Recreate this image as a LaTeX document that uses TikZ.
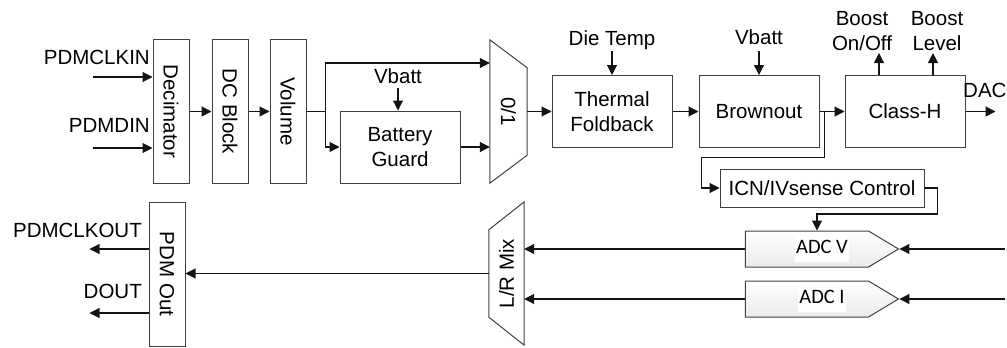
\documentclass[tikz,border=0pt]{standalone}
\usepackage{fontspec}
\setmainfont{Liberation Sans}
\newfontfamily\adcfont{Carlito}
\usepackage{graphicx}
\usepackage{tikz}
\usetikzlibrary{arrows.meta,positioning,shapes.symbols,calc}
\usepackage{xcolor}
\definecolor{Edge}{RGB}{64,64,64}
\definecolor{Wire}{RGB}{20,20,20}

\begin{document}
\begin{tikzpicture}[x=1pt,y=-1pt, every node/.style={font=\fontsize{20.5}{25}\selectfont},
  blk/.style={draw=Edge,line width=1pt,minimum width=120pt,minimum height=72pt,inner sep=0pt,align=center},
  vblk/.style={blk,minimum width=36pt,minimum height=144pt},
  muxbox/.style={inner sep=0pt,minimum width=36pt,minimum height=143pt},
  adc/.style={signal,signal to=east,signal from=nowhere,signal pointer angle=62,draw=Edge,line width=1pt,
    top color=white,bottom color=black!8,minimum width=153pt,minimum height=36pt,inner sep=0pt,
    font=\adcfont\fontsize{20.5}{24}\selectfont},
  arr/.style={-{Triangle[length=10pt,width=10pt]},line width=1.1pt,draw=Wire},
  lbl/.style={inner sep=0pt}]
\useasboundingbox (0,0) rectangle (1007,348);

\node[vblk] (dec) at (171,111.5) {\rotatebox{-90}{Decimator}};
\node[vblk,right=22pt of dec] (dcb) {\rotatebox{-90}{DC Block}};
\node[vblk,right=21pt of dcb] (vol) {\rotatebox{-90}{Volume}};
\node[blk] (bg) at (400,147) {Battery\\Guard};
\node[muxbox,minimum width=37pt] (mux) at (508.5,111.5) {\rotatebox{-90}{0/1}};
\draw[draw=Edge,line width=1pt] (mux.north west) -- ([yshift=-28pt]mux.north east)
  -- ([yshift=28pt]mux.south east) -- (mux.south west) -- cycle;
\node[blk] (tf) at (612,111.5) {Thermal\\Foldback};
\node[blk,right=26pt of tf] (bo) {Brownout};
\node[blk,right=25pt of bo] (ch) {Class-H};
\node[blk,minimum width=204pt,minimum height=38pt] (icn) at (822,188) {ICN/IVsense Control};
\node[adc] (adcv) at (807,249) {\hspace*{30pt}\setlength{\fboxsep}{1pt}\colorbox{white}{\strut ADC V}};
\node[adc,below=13pt of adcv] (adci) {\hspace*{30pt}\setlength{\fboxsep}{1pt}\colorbox{white}{\strut ADC I}};
\node[muxbox,minimum width=35pt] (lrmix) at (506.5,273.5) {\rotatebox{90}{L/R Mix}};
\draw[draw=Edge,line width=1pt] ([yshift=-28pt]lrmix.north west) -- (lrmix.north east)
  -- (lrmix.south east) -- ([yshift=28pt]lrmix.south west) -- cycle;
\node[vblk] (pdm) at (167,274) {\rotatebox{-90}{PDM Out}};

\node[lbl,anchor=base east] (clkin) at (150,64) {PDMCLKIN};
\node[lbl,anchor=base east] (din) at (150,132) {PDMDIN};
\node[lbl,anchor=base] (vbat1) at (398,83) {Vbatt};
\node[lbl,anchor=base] (temp) at (612,45) {Die Temp};
\node[lbl,anchor=base] (vbat2) at (759,44) {Vbatt};
\node[lbl,align=center] (bonoff) at (862,31) {Boost\\On/Off};
\node[lbl,align=center] (blevel) at (937,31) {Boost\\Level};
\node[lbl,anchor=base west] (dac) at (963,97) {DAC};
\node[lbl,anchor=base east] (clkout) at (142,237) {PDMCLKOUT};
\node[lbl,anchor=base east] (dout) at (142,298) {DOUT};

\coordinate (clkinA) at (93,77);
\coordinate (dinA) at (93,148);
\coordinate[right=19pt of vol.east] (vsplit);
\coordinate[right=5pt of bo.east] (bsplit);
\coordinate[right=106pt of adcv.east] (vin);
\coordinate[right=106pt of adci.east] (iin);

\draw[arr] (clkinA) -- (clkinA -| dec.west);
\draw[arr] (dinA) -- (dinA -| dec.west);
\draw[arr] (dec.east) -- (dcb.west);
\draw[arr] (dcb.east) -- (vol.west);
\draw[line width=1.1pt,draw=Wire] (vol.east) -- (vsplit);
\draw[arr] (vsplit) |- ([yshift=48.5pt]mux.west);
\draw[arr] (vsplit) |- (bg.west);
\draw[arr] ([yshift=-5pt]vbat1.south) -- (vbat1.south |- bg.north);
\draw[arr] (bg.east) -- (bg.east -| mux.west);
\draw[arr] (mux.east) -- (tf.west);
\draw[arr] ([yshift=-2pt]temp.south) -- (temp.south |- tf.north);
\draw[arr] (tf.east) -- (bo.west);
\draw[arr] ([yshift=-7pt]vbat2.south -| bo.north) -- (bo.north);
\draw[arr] (bo.east) -- (ch.west);
\draw[arr] ([xshift=-26pt]ch.north) -- ++(0,-22);
\draw[arr] ([xshift=28pt]ch.north) -- ++(0,-22);
\draw[arr] (ch.east) -- ++(30,0);
\draw[arr] (bsplit) -- ++(0,46) -| ([xshift=-18pt]icn.west) -- (icn.west);
\draw[arr] (icn.east) -- ++(13,0) -- ++(0,26) -| ([xshift=10pt]adcv.north);
\draw[arr] (vin) -- (adcv.east);
\draw[arr] (iin) -- (adci.east);
\draw[arr] (adcv.west) -- (adcv.west -| lrmix.east);
\draw[arr] (adci.west) -- (adci.west -| lrmix.east);
\draw[arr] (lrmix.west) -- (lrmix.west -| pdm.east);
\draw[arr] ([yshift=25pt]pdm.west) -- ++(-59,0);
\draw[arr] ([yshift=-39pt]pdm.west) -- ++(-59,0);
\end{tikzpicture}
\end{document}
